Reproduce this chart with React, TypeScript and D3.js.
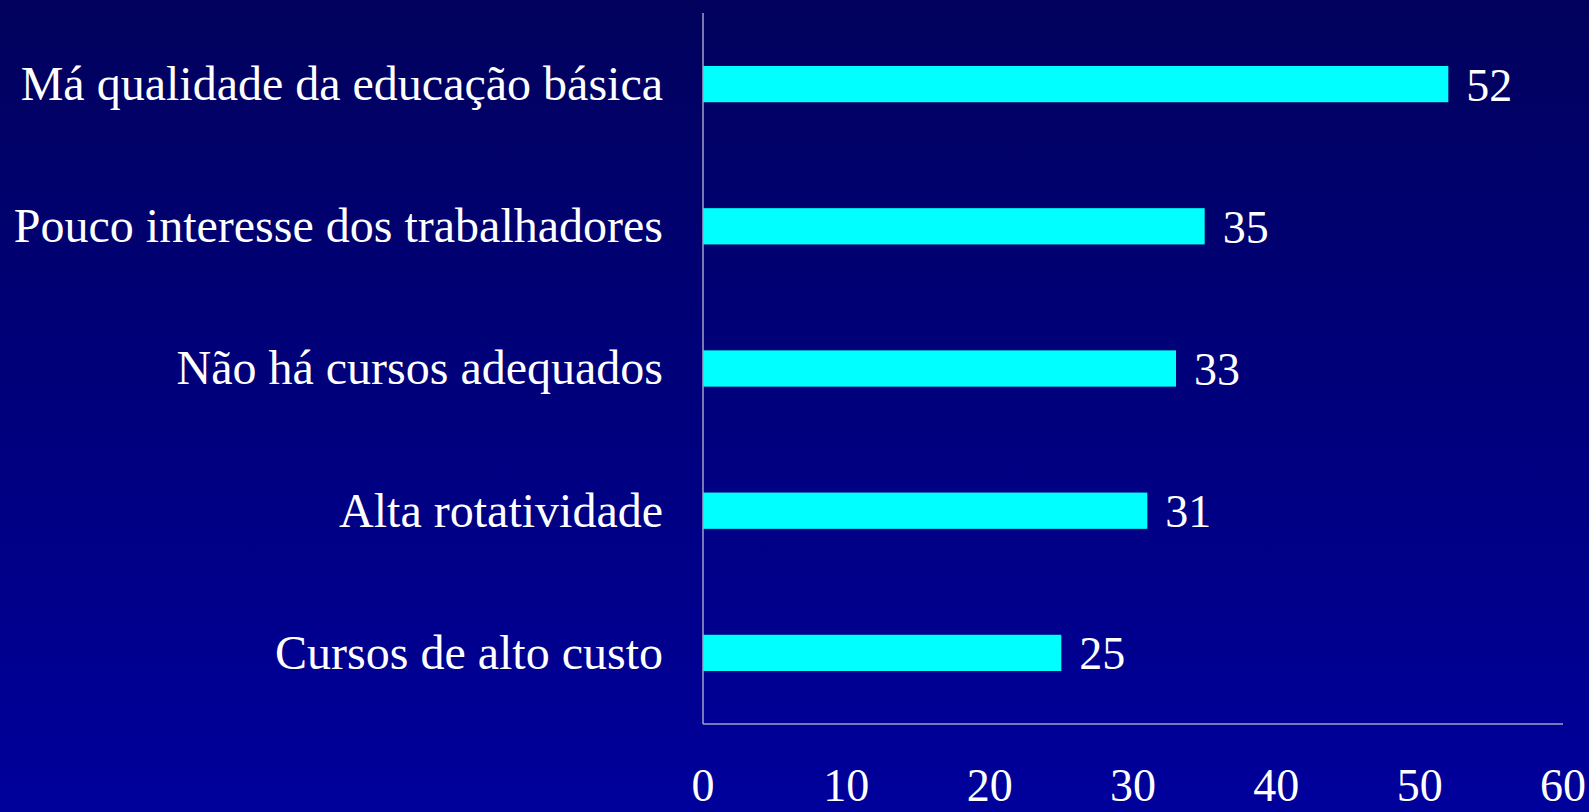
import React from "react";
import * as d3 from "d3";

const categories = [
  "Má qualidade da educação básica",
  "Pouco interesse dos trabalhadores",
  "Não há cursos adequados",
  "Alta rotatividade",
  "Cursos de alto custo",
];
const values = [52, 35, 33, 31, 25];
const ticks = [0, 10, 20, 30, 40, 50, 60];

const W = 1589;
const H = 812;
const left = 703;
const right = 1563;
const top = 13;
const bottom = 724;

export default function App() {
  const x = d3.scaleLinear().domain([0, 60]).range([left, right]);
  const y = d3
    .scaleBand<string>()
    .domain(categories)
    .range([top, bottom])
    .paddingInner(0.745)
    .paddingOuter(0.3725);
  const font = "'Liberation Serif', 'Times New Roman', serif";
  return (
    <div style={{ position: "fixed", left: 0, top: 0, width: W, height: H }}>
      <svg width={W} height={H} style={{ display: "block" }}>
        <defs>
          <linearGradient id="bg" x1="0" y1="0" x2="0" y2="1">
            <stop offset="0" stopColor="#01015d" />
            <stop offset="1" stopColor="#00009c" />
          </linearGradient>
        </defs>
        <rect x={0} y={0} width={W} height={H} fill="url(#bg)" />
        {categories.map((c, i) => (
          <g key={c}>
            <rect
              x={x(0)}
              y={y(c)}
              width={x(values[i]) - x(0)}
              height={y.bandwidth()}
              fill="#00ffff"
            />
            <text
              x={x(values[i]) + 18}
              y={(y(c) as number) + y.bandwidth() / 2}
              dy="0.36em"
              fill="#ffffff"
              fontFamily={font}
              fontSize={46}
            >
              {values[i]}
            </text>
            <text
              x={663}
              y={(y(c) as number) + y.bandwidth() / 2}
              dy="0.33em"
              textAnchor="end"
              fill="#ffffff"
              fontFamily={font}
              fontSize={48}
            >
              {c}
            </text>
          </g>
        ))}
        <line x1={left} x2={left} y1={top} y2={bottom} stroke="#a0a0c8" strokeWidth={1.5} />
        <line x1={left} x2={right} y1={bottom} y2={bottom} stroke="#a0a0c8" strokeWidth={1.5} />
        {ticks.map((t) => (
          <text
            key={t}
            x={x(t)}
            y={801}
            textAnchor="middle"
            fill="#ffffff"
            fontFamily={font}
            fontSize={46}
          >
            {t}
          </text>
        ))}
      </svg>
    </div>
  );
}
